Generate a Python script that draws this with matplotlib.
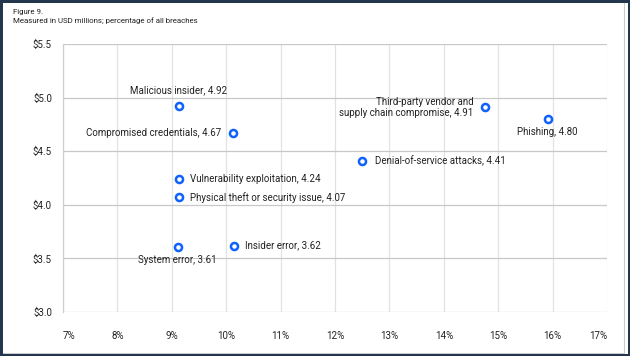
import matplotlib
matplotlib.use("Agg")
import matplotlib.pyplot as plt
from matplotlib.patches import Rectangle

plt.rcParams['font.family'] = ['Roboto', 'DejaVu Sans']

labels = ["Malicious insider", "Compromised credentials", "Vulnerability exploitation",
          "Physical theft or security issue", "Denial-of-service attacks",
          "Third-party vendor and\nsupply chain compromise", "Phishing",
          "System error", "Insider error"]
pct = [9.13, 10.13, 9.13, 9.13, 12.49, 14.75, 15.91, 9.11, 10.15]
cost = [4.92, 4.67, 4.24, 4.07, 4.41, 4.91, 4.80, 3.61, 3.62]
xticks = [7, 8, 9, 10, 11, 12, 13, 14, 15, 16, 17]
yticks = [3.0, 3.5, 4.0, 4.5, 5.0, 5.5]

# label placement: (dx px, dy px, ha, va)
place = [(0, 11, 'center', 'bottom'), (-12, 0, 'right', 'center'), (11, 0, 'left', 'center'),
         (11, 0, 'left', 'center'), (13, 0, 'left', 'center'), (-11, 0, 'right', 'center'),
         (0, -8, 'center', 'top'), (0, -8, 'center', 'top'), (11, 0, 'left', 'center')]

fig = plt.figure(figsize=(6.3, 3.56), dpi=100)
ax = fig.add_axes([0.1, 0.1236, 0.8635, 0.7528])

blue = '#0f62fe'
ax.scatter(pct, cost, s=26, facecolor='white', edgecolor=blue, linewidth=1.8, zorder=3)
for x, y, lab, (dx, dy, ha, va) in zip(pct, cost, labels, place):
    ax.annotate(f"{lab}, {y:.2f}", (x, y), xytext=(dx * 0.72, dy * 0.72),
                textcoords='offset points', ha=ha, va=va, fontsize=7,
                color='#222222', multialignment='right', linespacing=1.15)

ax.set_xlim(7, 17)
ax.set_ylim(3.0, 5.5)
ax.set_xticks(xticks)
ax.set_xticklabels([f"{t}%" for t in xticks])
ax.set_yticks(yticks)
ax.set_yticklabels([f"${t:.1f}" for t in yticks])
ax.tick_params(axis='both', length=0, labelsize=7, colors='#222222')
ax.tick_params(axis='x', pad=14)
ax.tick_params(axis='y', pad=8)
for lbl in ax.get_xticklabels():
    if lbl.get_text() == '7%':
        lbl.set_ha('left')
    elif lbl.get_text() == '17%':
        lbl.set_ha('right')

ax.grid(axis='x', color='#e2e2e2', linewidth=0.9)
ax.grid(axis='y', color='#c8c8c8', linewidth=0.9)
ax.set_axisbelow(True)
for s in ['top', 'right', 'bottom']:
    ax.spines[s].set_visible(False)
ax.spines['left'].set_color('#cfcfcf')
ax.spines['left'].set_linewidth(0.9)

fig.text(13 / 630, 1 - 12 / 356, "Figure 9.", fontsize=5.7, color='#222222', va='center')
fig.text(13 / 630, 1 - 21 / 356, "Measured in USD millions; percentage of all breaches",
         fontsize=5.7, color='#222222', va='center')

# outer frame (dark navy) with a light inner line on right/bottom
fig.patches.append(Rectangle((0, 0), 1, 1, transform=fig.transFigure,
                             facecolor='none', edgecolor='#23364d', linewidth=3.6, zorder=5))
fig.patches.append(Rectangle((0, 3.5 / 356), 623.5 / 630, 1, transform=fig.transFigure,
                             facecolor='none', edgecolor='#c9cdd2', linewidth=0.8, zorder=4))

fig.savefig("out.png", dpi=100)
